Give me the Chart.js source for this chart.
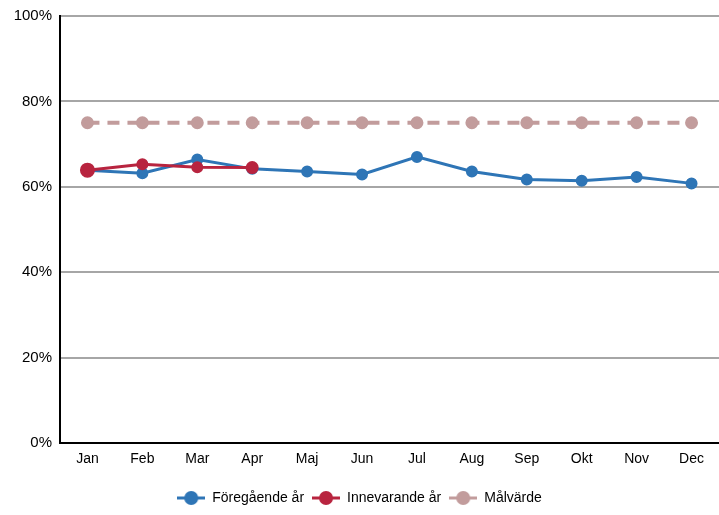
<!DOCTYPE html>
<html>
<head>
<meta charset="utf-8">
<script src="https://cdn.jsdelivr.net/npm/chart.js@4.4.1/dist/chart.umd.min.js"></script>
<style>
  html, body { margin: 0; padding: 0; background: #fff; }
  #wrap { width: 719px; height: 515px; }
</style>
</head>
<body>
<div id="wrap"><canvas id="chart" width="719" height="515"></canvas></div>
<script>
const months = ['Jan', 'Feb', 'Mar', 'Apr', 'Maj', 'Jun', 'Jul', 'Aug', 'Sep', 'Okt', 'Nov', 'Dec'];
const previousYear = [63.9, 63.2, 66.4, 64.2, 63.6, 62.9, 67.0, 63.6, 61.7, 61.4, 62.3, 60.8];
const currentYear = [63.9, 65.3, 64.6, 64.5];
const target = [75, 75, 75, 75, 75, 75, 75, 75, 75, 75, 75, 75];
const yTicks = [0, 20, 40, 60, 80, 100];

const BLUE = '#2e75b6';
const RED = '#b8243f';
const ROSE = '#c29c9c';

// legend symbol: short line with a dot in the middle
function legendIcon(color) {
    const c = document.createElement('canvas');
    c.width = 28;
    c.height = 16;
    const ctx = c.getContext('2d');
    ctx.strokeStyle = color;
    ctx.lineWidth = 3;
    ctx.beginPath();
    ctx.moveTo(0, 8);
    ctx.lineTo(28, 8);
    ctx.stroke();
    ctx.fillStyle = color;
    ctx.beginPath();
    ctx.arc(14, 8, 7, 0, Math.PI * 2);
    ctx.fill();
    return c;
}

const icons = [legendIcon(BLUE), legendIcon(RED), legendIcon(ROSE)];

new Chart(document.getElementById('chart'), {
    type: 'line',
    data: {
        labels: months,
        datasets: [{
            label: 'Föregående år',
            data: previousYear,
            borderColor: BLUE,
            backgroundColor: BLUE,
            borderWidth: 3,
            pointRadius: 4.5,
            pointHoverRadius: 4.5,
            tension: 0,
            order: 2
        }, {
            label: 'Innevarande år',
            data: currentYear,
            borderColor: RED,
            backgroundColor: RED,
            borderWidth: 3,
            pointRadius: [6, 4.5, 4.5, 5],
            tension: 0,
            order: 1
        }, {
            label: 'Målvärde',
            data: target,
            borderColor: ROSE,
            backgroundColor: ROSE,
            borderWidth: 4,
            borderDash: [12, 8],
            pointRadius: 4.5,
            tension: 0,
            order: 3
        }]
    },
    options: {
        responsive: false,
        animation: false,
        layout: { autoPadding: false, padding: { top: 16, right: 0, left: 0, bottom: 0 } },
        plugins: {
            tooltip: { enabled: false },
            legend: {
                position: 'bottom',
                labels: {
                    usePointStyle: true,
                    pointStyleWidth: 28,
                    boxHeight: 16,
                    padding: 8,
                    color: '#000',
                    font: { family: 'Liberation Sans, Arial, sans-serif', size: 14 },
                    generateLabels(chart) {
                        return chart.data.datasets.map((ds, i) => ({
                            text: ds.label,
                            pointStyle: icons[i],
                            fillStyle: ds.borderColor,
                            strokeStyle: ds.borderColor,
                            lineWidth: 0,
                            datasetIndex: i,
                            hidden: false
                        }));
                    }
                }
            }
        },
        scales: {
            x: {
                offset: true,
                grid: { display: false },
                border: { color: '#000', width: 2 },
                ticks: {
                    color: '#000',
                    padding: 0,
                    font: { family: 'Liberation Sans, Arial, sans-serif', size: 14 }
                },
                afterFit(scale) {
                    scale.height = 40;
                    scale.paddingLeft = 0;
                    scale.paddingRight = 0;
                }
            },
            y: {
                min: 0,
                max: 100,
                afterBuildTicks(scale) {
                    scale.ticks = yTicks.map(v => ({ value: v }));
                },
                grid: { color: '#a6a6a6', lineWidth: 2, drawTicks: false },
                border: { color: '#000', width: 2 },
                ticks: {
                    color: '#000',
                    padding: 8,
                    font: { family: 'Liberation Sans, Arial, sans-serif', size: 15 },
                    callback: v => v + '%'
                },
                afterFit(scale) {
                    scale.width = 60;
                    scale.paddingTop = 0;
                    scale.paddingBottom = 0;
                }
            }
        }
    }
});
</script>
</body>
</html>
